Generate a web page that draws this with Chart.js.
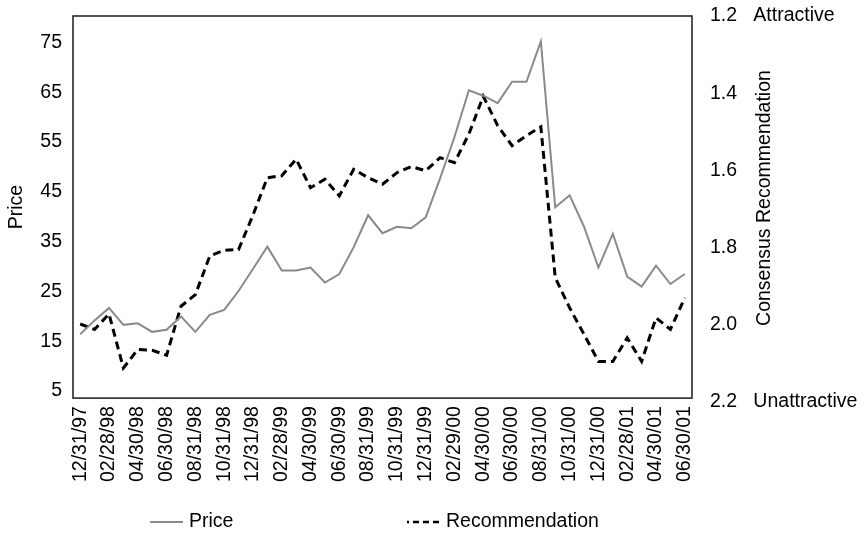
<!DOCTYPE html>
<html>
<head>
<meta charset="utf-8">
<script src="https://cdn.jsdelivr.net/npm/chart.js@4/dist/chart.umd.min.js"></script>
<style>
  html, body { margin: 0; padding: 0; background: #fff; }
  #wrap { width: 867px; height: 533px; }
</style>
</head>
<body>
<div id="wrap"><canvas id="c" width="867" height="533"></canvas></div>
<script>
const categories = [
  "12/31/97","01/31/98","02/28/98","03/31/98","04/30/98","05/31/98","06/30/98","07/31/98","08/31/98","09/30/98","10/31/98","11/30/98",
  "12/31/98","01/31/99","02/28/99","03/31/99","04/30/99","05/31/99","06/30/99","07/31/99","08/31/99","09/30/99","10/31/99","11/30/99",
  "12/31/99","01/31/00","02/29/00","03/31/00","04/30/00","05/31/00","06/30/00","07/31/00","08/31/00","09/30/00","10/31/00","11/30/00",
  "12/31/00","01/31/01","02/28/01","03/31/01","04/30/01","05/31/01","06/30/01"
];
const priceValues = [
  16.4, 19.2, 21.7, 18.3, 18.6, 16.9, 17.3, 20.0, 16.9, 20.3, 21.3, 25.1,
  29.5, 34.0, 29.2, 29.2, 29.8, 26.8, 28.5, 33.9, 40.3, 36.7, 38.0, 37.7,
  39.9, 47.7, 56.0, 65.4, 64.3, 62.8, 67.1, 67.1, 75.2, 41.9, 44.3, 38.0,
  29.8, 36.6, 28.0, 26.0, 30.2, 26.5, 28.5
];
const recommendationValues = [
  1.998, 2.012, 1.972, 2.112, 2.064, 2.066, 2.079, 1.952, 1.922, 1.822, 1.807, 1.805,
  1.716, 1.619, 1.614, 1.571, 1.645, 1.623, 1.666, 1.597, 1.619, 1.636, 1.606, 1.590,
  1.601, 1.567, 1.580, 1.506, 1.408, 1.484, 1.536, 1.510, 1.487, 1.878, 1.956, 2.025,
  2.095, 2.095, 2.034, 2.095, 1.982, 2.012, 1.930
];
const priceTicks = [5, 15, 25, 35, 45, 55, 65, 75];
const recommendationTicks = [1.2, 1.4, 1.6, 1.8, 2.0, 2.2];
const recommendationTickNotes = { "1.2": "Attractive", "2.2": "Unattractive" };
const seriesNames = ["Price", "Recommendation"];
const axisTitles = { left: "Price", right: "Consensus Recommendation" };

const FONT = "'Liberation Sans', Arial, Helvetica, sans-serif";
const FSIZE = 19.5;

const frameAndExtras = {
  id: 'frameAndExtras',
  afterDraw(chart) {
    const ctx = chart.ctx;
    const a = chart.chartArea;
    ctx.save();
    // frame
    ctx.strokeStyle = '#1a1a1a';
    ctx.lineWidth = 1.5;
    ctx.setLineDash([]);
    ctx.strokeRect(a.left, a.top, a.right - a.left, a.bottom - a.top);
    // right axis title
    ctx.fillStyle = '#000';
    ctx.font = FSIZE + 'px ' + FONT;
    ctx.textAlign = 'center';
    ctx.textBaseline = 'middle';
    ctx.save();
    ctx.translate(a.right + 73, (a.top + a.bottom) / 2 - 9);
    ctx.rotate(-Math.PI / 2);
    ctx.fillText(axisTitles.right, 0, 0);
    ctx.restore();
    // legend
    const ly = 522;
    const items = chart.data.datasets;
    const offs = [a.left + 77, a.left + 334];
    items.forEach((ds, i) => {
      const x0 = offs[i];
      ctx.beginPath();
      ctx.strokeStyle = ds.borderColor;
      ctx.lineWidth = i === 0 ? 2 : 2.5;
      ctx.setLineDash(i === 0 ? [] : [6, 4]);
      ctx.lineDashOffset = i === 0 ? 0 : 4;
      ctx.moveTo(x0, ly);
      ctx.lineTo(x0 + 33, ly);
      ctx.stroke();
      ctx.setLineDash([]);
      ctx.fillStyle = '#000';
      ctx.textAlign = 'left';
      ctx.textBaseline = 'middle';
      ctx.fillText(ds.label, x0 + 39, ly);
    });
    ctx.restore();
  }
};

new Chart(document.getElementById('c'), {
  type: 'line',
  data: {
    labels: categories,
    datasets: [
      {
        label: seriesNames[0],
        data: priceValues,
        yAxisID: 'y',
        borderColor: '#8a8a8a',
        borderWidth: 2,
        pointRadius: 0,
        tension: 0,
        fill: false
      },
      {
        label: seriesNames[1],
        data: recommendationValues,
        yAxisID: 'y1',
        borderColor: '#000000',
        borderWidth: 3,
        borderDash: [8, 5],
        pointRadius: 0,
        tension: 0,
        fill: false
      }
    ]
  },
  options: {
    responsive: false,
    animation: false,
    devicePixelRatio: 1,
    layout: { padding: { left: 0, right: 0, top: 16, bottom: 43 } },
    plugins: {
      legend: { display: false },
      tooltip: { enabled: false }
    },
    scales: {
      x: {
        offset: true,
        grid: { display: false, drawTicks: false },
        border: { display: false },
        ticks: {
          autoSkip: false,
          minRotation: 90,
          maxRotation: 90,
          padding: 8,
          color: '#000',
          font: { family: FONT, size: FSIZE },
          callback: function (value, index) {
            return index % 2 === 0 ? categories[index] : '';
          }
        }
      },
      y: {
        position: 'left',
        min: 3.6,
        max: 80.3,
        grid: { display: false, drawTicks: false },
        border: { display: false },
        afterBuildTicks: function (scale) {
          scale.ticks = priceTicks.map(v => ({ value: v }));
        },
        afterFit: function (scale) {
          scale.width = 73;
          scale.paddingTop = 0;
          scale.paddingBottom = 0;
        },
        ticks: {
          padding: 11,
          color: '#000',
          font: { family: FONT, size: FSIZE },
          callback: v => String(v)
        },
        title: {
          display: true,
          text: axisTitles.left,
          color: '#000',
          font: { family: FONT, size: FSIZE },
          padding: { top: 5.3, bottom: 0 }
        }
      },
      y1: {
        position: 'right',
        reverse: true,
        min: 1.2,
        max: 2.19,
        grid: { display: false, drawTicks: false },
        border: { display: false },
        afterBuildTicks: function (scale) {
          scale.ticks = recommendationTicks.map(v => ({ value: v }));
        },
        afterFit: function (scale) {
          scale.width = 175;
          scale.paddingTop = 0;
          scale.paddingBottom = 0;
        },
        ticks: {
          padding: 18,
          color: '#000',
          font: { family: FONT, size: FSIZE },
          callback: function (v) {
            const key = Number(v).toFixed(1);
            const note = recommendationTickNotes[key];
            return note ? key + '   ' + note : key;
          }
        }
      }
    }
  },
  plugins: [frameAndExtras]
});
</script>
</body>
</html>
